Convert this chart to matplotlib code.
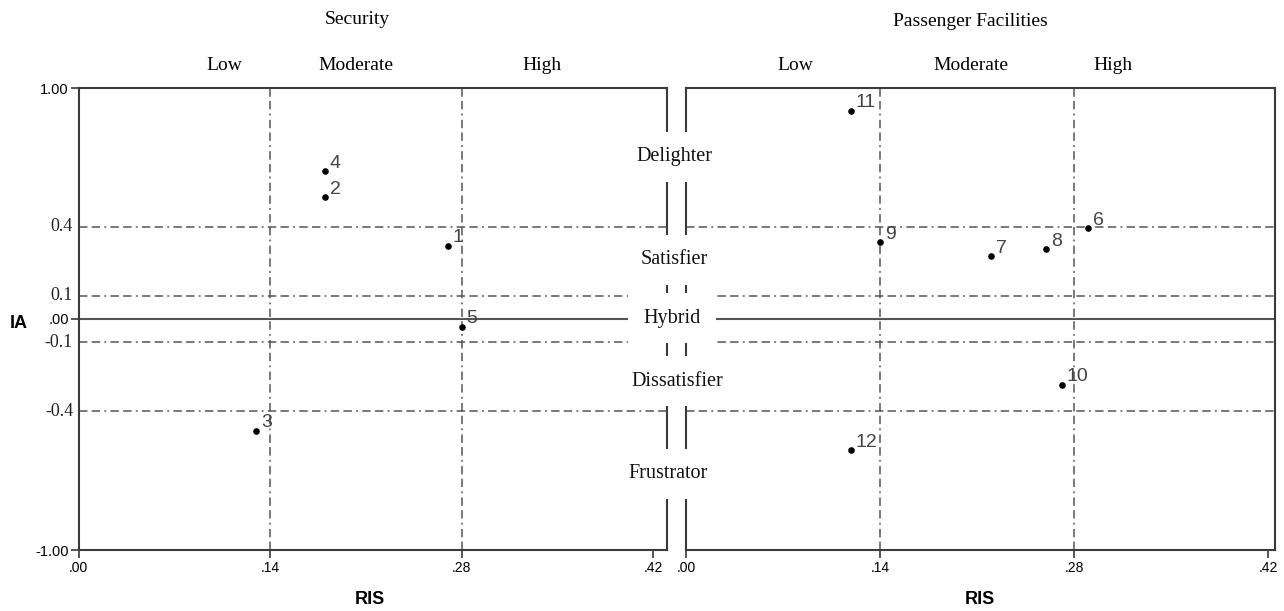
import numpy as np
import matplotlib
matplotlib.use('Agg')
from matplotlib import pyplot as plt

# Security panel
sec_ids = ['1', '2', '3', '4', '5']
sec_ris = [0.270, 0.180, 0.130, 0.180, 0.280]
sec_ia = [0.317, 0.526, -0.483, 0.639, -0.033]

# Passenger Facilities panel
pf_ids = ['6', '7', '8', '9', '10', '11', '12']
pf_ris = [0.290, 0.220, 0.260, 0.140, 0.271, 0.119, 0.119]
pf_ia = [0.393, 0.272, 0.302, 0.333, -0.285, 0.902, -0.567]

x_ticks = [0.0, 0.14, 0.28, 0.42]
x_ticklabels = ['.00', '.14', '.28', '.42']
ia_lines = [0.4, 0.1, -0.1, -0.4]
ia_linelabels = ['0.4', '0.1', '-0.1', '-0.4']
y_ticks = [-1.0, 0.0, 1.0]
y_ticklabels = ['-1.00', '.00', '1.00']
ris_levels = ['Low', 'Moderate', 'High']
categories = ['Delighter', 'Satisfier', 'Hybrid', 'Dissatisfier', 'Frustrator']

SANS = 'Liberation Sans'
SERIF = 'Liberation Serif'
LINE_C = '#555555'
SPINE_C = '#3a3a3a'
DASHDOT = (0, (5.5, 2.8, 5.5, 2.8, 1.2, 2.8))

W, H = 1284, 611
fig = plt.figure(figsize=(W / 100, H / 100), dpi=100)


def px(x, y):
    return x / W, 1 - y / H


def panel(rect, xmax, ids, ris, ia, left):
    ax = fig.add_axes(rect)
    ax.set_xlim(0, xmax)
    ax.set_ylim(-1, 1)
    for s in ax.spines.values():
        s.set_color(SPINE_C)
        s.set_linewidth(1.5)

    for v in x_ticks[1:3]:
        ax.axvline(v, color=LINE_C, lw=1.1, ls=DASHDOT, zorder=1)
    for v in ia_lines:
        ax.axhline(v, color=LINE_C, lw=1.1, ls=DASHDOT, zorder=1)
    ax.axhline(0, color=LINE_C, lw=1.5, zorder=1)

    ax.scatter(ris, ia, s=14, color='black', zorder=3)
    for lab, x, y in zip(ids, ris, ia):
        ax.annotate(lab, (x, y), xytext=(3.5, 2.5), textcoords='offset points',
                    ha='left', va='baseline', fontsize=14, color='#444444',
                    family=SANS, zorder=4)

    ax.set_xticks(x_ticks)
    ax.set_xticklabels(x_ticklabels, family=SANS, fontsize=10)
    ax.tick_params(axis='x', direction='out', length=6, width=1.2,
                   color=SPINE_C, pad=2)
    if left:
        ax.set_yticks(y_ticks)
        ax.set_yticklabels(y_ticklabels, family=SANS, fontsize=10.5)
        ax.tick_params(axis='y', direction='out', length=6, width=1.2,
                       color=SPINE_C, pad=1)
        for v, t in zip(ia_lines, ia_linelabels):
            ax.text(-0.004, v, t, ha='right', va='center', family=SERIF,
                    fontsize=13, color='#222222', clip_on=False)
    else:
        ax.set_yticks([])
    return ax


ax1 = panel([78.5 / W, 61 / H, (667 - 78.5) / W, 462 / H], (667 - 78.5) / 1368,
            sec_ids, sec_ris, sec_ia, True)
ax2 = panel([686 / W, 61 / H, (1275 - 686) / W, 462 / H], (1275 - 686) / 1386,
            pf_ids, pf_ris, pf_ia, False)

# headings
fig.text(*px(357, 20), 'Security', ha='center', va='center', family=SERIF, fontsize=14)
fig.text(*px(970, 22), 'Passenger Facilities', ha='center', va='center', family=SERIF, fontsize=14)
for lab, x in zip(ris_levels, [224, 356, 542]):
    fig.text(*px(x, 66), lab, ha='center', va='center', family=SERIF, fontsize=14)
for lab, x in zip(ris_levels, [795, 971, 1113]):
    fig.text(*px(x, 65), lab, ha='center', va='center', family=SERIF, fontsize=14)

# category labels between the panels, covering the spines
for lab, (x, y) in zip(categories, [(674, 157), (674, 260), (672, 318), (677, 381), (668, 474)]):
    fig.text(*px(x, y), lab, ha='center', va='center', family=SERIF, fontsize=14.5,
             color='#111111', zorder=10,
             bbox=dict(boxstyle='square,pad=0.75', fc='white', ec='none'))

# axis titles
fig.text(*px(370, 600), 'RIS', ha='center', va='center', family=SANS,
         fontsize=13, fontweight='bold')
fig.text(*px(980, 600), 'RIS', ha='center', va='center', family=SANS,
         fontsize=13, fontweight='bold')
fig.text(*px(19, 323), 'IA', ha='center', va='center', family=SANS,
         fontsize=13, fontweight='bold')

fig.savefig('out.png', dpi=100)
